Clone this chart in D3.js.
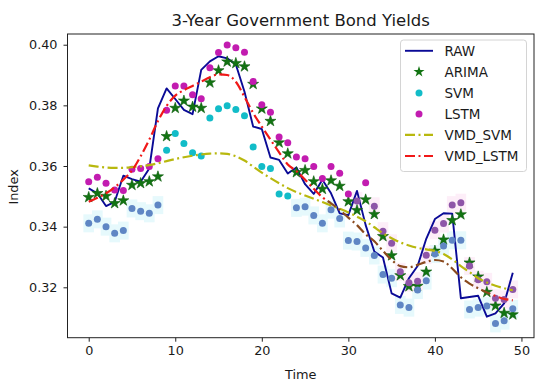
<!DOCTYPE html>
<html>
<head>
<meta charset="utf-8">
<script src="https://cdn.jsdelivr.net/npm/d3@7"></script>
<style>
  body { margin: 0; background: #fff; }
  text { font-family: "DejaVu Sans", sans-serif; fill: #1a1a1a; }
</style>
</head>
<body>
<div id="chart"></div>
<script>
// Data
var time = [0,1,2,3,4,5,6,7,8,9,10,11,12,13,14,15,16,17,18,19,20,21,22,23,24,
            25,26,27,28,29,30,31,32,33,34,35,36,37,38,39,40,41,42,43,44,45,46,47,48,49];

var raw = [0.3526,0.3510,0.3468,0.3482,0.3568,0.3557,0.3548,0.3592,0.3790,0.3856,
           0.3821,0.3785,0.3771,0.3917,0.3945,0.3962,0.3955,0.3935,0.3845,0.3730,
           0.3722,0.3628,0.3620,0.3575,0.3595,0.3540,0.3508,0.3555,0.3510,0.3444,
           0.3438,0.3518,0.3405,0.3318,0.3298,0.3180,0.3166,0.3230,0.3270,0.3360,
           0.3425,0.3444,0.3443,0.3164,0.3168,0.3172,0.3103,0.3114,0.3147,0.3248];

var arima = [0.3497,0.3510,0.3501,0.3477,0.3486,0.3537,0.3543,0.3549,0.3565,0.3698,
             0.3791,0.3815,0.3795,0.3791,0.3875,0.3915,0.3944,0.3939,0.3928,0.3870,
             0.3789,0.3748,0.3677,0.3641,0.3579,0.3586,0.3549,0.3524,0.3552,0.3534,
             0.3483,0.3454,0.3489,0.3441,0.3368,0.3305,0.3239,0.3203,0.3204,0.3251,
             0.3320,0.3357,0.3421,0.3440,0.3281,0.3235,0.3184,0.3139,0.3115,0.3110];

var svm = [0.3411,0.3424,0.3400,0.3378,0.3387,0.3460,0.3451,0.3444,0.3471,0.3652,
           0.3707,0.3674,0.3644,0.3633,0.3758,0.3789,0.3799,0.3786,0.3766,0.3663,
           0.3598,0.3592,0.3508,0.3501,0.3462,0.3466,0.3437,0.3411,0.3456,0.3427,
           0.3354,0.3351,0.3330,0.3305,0.3242,0.3230,0.3142,0.3133,0.3191,0.3222,
           0.3310,0.3336,0.3355,0.3355,0.3127,0.3133,0.3138,0.3081,0.3090,0.3129];

var lstm = [0.3548,0.3563,0.3543,0.3521,0.3519,0.3589,0.3592,0.3598,0.3624,0.3784,
            0.3864,0.3864,0.3835,0.3822,0.3924,0.3974,0.3999,0.3990,0.3975,0.3879,
            0.3802,0.3777,0.3696,0.3677,0.3630,0.3624,0.3598,0.3559,0.3598,0.3576,
            0.3508,0.3485,0.3545,0.3467,0.3385,0.3345,0.3251,0.3215,0.3220,0.3306,
            0.3388,0.3410,0.3471,0.3479,0.3270,0.3225,0.3218,0.3164,0.3160,0.3193];

var vmdSvm = [0.3602,0.3598,0.3595,0.3594,0.3594,0.3596,0.3599,0.3603,0.3609,0.3616,
              0.3623,0.3629,0.3634,0.3638,0.3641,0.3642,0.3640,0.3632,0.3618,0.3598,
              0.3578,0.3560,0.3543,0.3527,0.3514,0.3503,0.3492,0.3481,0.3470,0.3459,
              0.3447,0.3433,0.3418,0.3398,0.3378,0.3362,0.3348,0.3338,0.3330,0.3325,
              0.3320,0.3310,0.3292,0.3270,0.3250,0.3230,0.3216,0.3205,0.3197,0.3190];

var vmdLstm = [0.3482,0.3495,0.3510,0.3530,0.3555,0.3585,0.3632,0.3687,0.3748,0.3798,
               0.3832,0.3850,0.3864,0.3878,0.3893,0.3902,0.3900,0.3878,0.3828,0.3775,
               0.3730,0.3687,0.3645,0.3605,0.3583,0.3555,0.3525,0.3497,0.3477,0.3455,
               0.3430,0.3405,0.3375,0.3352,0.3320,0.3290,0.3270,0.3266,0.3274,0.3284,
               0.3290,0.3285,0.3262,0.3233,0.3212,0.3197,0.3183,0.3171,0.3162,0.3157];

var seriesNames = ["RAW", "ARIMA", "SVM", "LSTM", "VMD_SVM", "VMD_LSTM"];
var xTicks = [0, 10, 20, 30, 40, 50];
var yTicks = [0.32, 0.34, 0.36, 0.38, 0.40];

var svgWidth = 550;
var svgHeight = 388;
var margin = { top: 34, right: 16, bottom: 50.3, left: 67.5 };
var width = svgWidth - margin.left - margin.right;
var height = svgHeight - margin.top - margin.bottom;

var svg = d3.select("#chart")
  .append("svg")
  .attr("width", svgWidth)
  .attr("height", svgHeight);

var chart = svg.append("g")
  .attr("transform", `translate(${margin.left}, ${margin.top})`);

var xScale = d3.scaleLinear().domain([-2.45, 51.45]).range([0, width]);
var yScale = d3.scaleLinear().domain([0.30338, 0.40353]).range([height, 0]);

// faint highlight boxes behind the low points (present in the picture)
var boxW = xScale(1) - xScale(0) + 2;
function boxes(vals, limit, fill) {
  chart.append("g").selectAll("rect")
    .data(time.filter(t => vals[t] < limit))
    .enter().append("rect")
    .attr("x", t => xScale(t) - boxW / 2)
    .attr("y", t => yScale(vals[t]) - 9)
    .attr("width", boxW)
    .attr("height", 18)
    .attr("fill", fill);
}
boxes(svm, 0.348, "#e6f9fc");
boxes(lstm, 0.349, "#fdeef8");

// axes
var bottomAxis = d3.axisBottom(xScale).tickValues(xTicks).tickSize(4).tickPadding(4.5);
var leftAxis = d3.axisLeft(yScale).tickValues(yTicks).tickSize(4).tickPadding(6)
  .tickFormat(d3.format(".2f"));

var gx = chart.append("g")
  .attr("transform", `translate(0, ${height})`)
  .call(bottomAxis);
var gy = chart.append("g").call(leftAxis);
[gx, gy].forEach(function(g) {
  g.select(".domain").remove();
  g.selectAll("line").attr("stroke", "#222").attr("stroke-width", 1);
  g.selectAll("text").attr("font-size", "12.8px")
    .attr("font-family", "DejaVu Sans, sans-serif").attr("fill", "#1a1a1a");
});

// red line turns brown through the shaded part
var defs = svg.append("defs");
var grad = defs.append("linearGradient")
  .attr("id", "vmdGrad")
  .attr("gradientUnits", "userSpaceOnUse")
  .attr("x1", 0).attr("x2", width).attr("y1", 0).attr("y2", 0);
var s1 = xScale(27.4) / width, s2 = xScale(46.6) / width;
[[0, "#f01818"], [s1, "#f01818"], [s1, "#8a4a1e"], [s2, "#8a4a1e"], [s2, "#e8261e"], [1, "#e8261e"]]
  .forEach(function(s) {
    grad.append("stop").attr("offset", s[0]).attr("stop-color", s[1]);
  });

var line = d3.line().x((d, i) => xScale(time[i])).y(d => yScale(d));

// RAW
chart.append("path")
  .datum(raw)
  .attr("d", line)
  .attr("fill", "none")
  .attr("stroke", "#0a0a96")
  .attr("stroke-width", 1.9)
  .attr("stroke-linejoin", "round");

// ARIMA stars
var star = d3.symbol().type(d3.symbolStar).size(38);
chart.append("g").selectAll("path")
  .data(arima)
  .enter().append("path")
  .attr("d", star)
  .attr("transform", (d, i) => `translate(${xScale(time[i])}, ${yScale(d)})`)
  .attr("fill", "#127412")
  .attr("stroke", "#0a5a0a")
  .attr("stroke-width", 0.6);

// SVM dots
chart.append("g").selectAll("circle")
  .data(svm)
  .enter().append("circle")
  .attr("cx", (d, i) => xScale(time[i]))
  .attr("cy", d => yScale(d))
  .attr("r", 3.5)
  .attr("fill", d => d < 0.348 ? "#5f86c4" : "#12bcc8");

// LSTM dots
chart.append("g").selectAll("circle")
  .data(lstm)
  .enter().append("circle")
  .attr("cx", (d, i) => xScale(time[i]))
  .attr("cy", d => yScale(d))
  .attr("r", 3.5)
  .attr("fill", d => d < 0.349 ? "#8e55a8" : "#c21cb0");

// VMD_SVM
chart.append("path")
  .datum(vmdSvm)
  .attr("d", line.curve(d3.curveMonotoneX))
  .attr("fill", "none")
  .attr("stroke", "#b8b80e")
  .attr("stroke-width", 2.2)
  .attr("stroke-dasharray", "10,3.5,2,3.5");

// VMD_LSTM
chart.append("path")
  .datum(vmdLstm)
  .attr("d", line.curve(d3.curveMonotoneX))
  .attr("fill", "none")
  .attr("stroke", "url(#vmdGrad)")
  .attr("stroke-width", 2.2)
  .attr("stroke-dasharray", "10,3.5,2,3.5");

// frame
chart.append("rect")
  .attr("width", width)
  .attr("height", height)
  .attr("fill", "none")
  .attr("stroke", "#222")
  .attr("stroke-width", 1);

// title and axis labels
svg.append("text")
  .attr("x", margin.left + width / 2)
  .attr("y", 26)
  .attr("text-anchor", "middle")
  .attr("font-size", "16.5px")
  .text("3-Year Government Bond Yields");

svg.append("text")
  .attr("x", margin.left + width / 2)
  .attr("y", 379)
  .attr("text-anchor", "middle")
  .attr("font-size", "12.9px")
  .text("Time");

svg.append("text")
  .attr("transform", `translate(18, ${margin.top + height / 2 + 1}) rotate(-90)`)
  .attr("text-anchor", "middle")
  .attr("font-size", "12.9px")
  .text("Index");

// legend
var legend = svg.append("g").attr("transform", "translate(400.5, 40)");
legend.append("rect")
  .attr("width", 126)
  .attr("height", 131.5)
  .attr("rx", 3)
  .attr("fill", "#fff")
  .attr("fill-opacity", 0.85)
  .attr("stroke", "#d4d4d4")
  .attr("stroke-width", 1);

var rowY = d3.scalePoint().domain(seriesNames).range([10.8, 116]);
var hx0 = 4.5, hx1 = 32.5, hxm = 18.5;

legend.append("line")
  .attr("x1", hx0).attr("x2", hx1)
  .attr("y1", rowY("RAW")).attr("y2", rowY("RAW"))
  .attr("stroke", "#0a0a96").attr("stroke-width", 1.9);
legend.append("path")
  .attr("d", star)
  .attr("transform", `translate(${hxm}, ${rowY("ARIMA")})`)
  .attr("fill", "#127412");
legend.append("circle")
  .attr("cx", hxm).attr("cy", rowY("SVM")).attr("r", 3.5).attr("fill", "#12bcc8");
legend.append("circle")
  .attr("cx", hxm).attr("cy", rowY("LSTM")).attr("r", 3.5).attr("fill", "#c21cb0");
legend.append("line")
  .attr("x1", hx0).attr("x2", hx1)
  .attr("y1", rowY("VMD_SVM")).attr("y2", rowY("VMD_SVM"))
  .attr("stroke", "#b8b80e").attr("stroke-width", 2.2)
  .attr("stroke-dasharray", "10,3.5,2,3.5");
legend.append("line")
  .attr("x1", hx0).attr("x2", hx1)
  .attr("y1", rowY("VMD_LSTM")).attr("y2", rowY("VMD_LSTM"))
  .attr("stroke", "#f01818").attr("stroke-width", 2.2)
  .attr("stroke-dasharray", "10,3.5,2,3.5");

legend.selectAll(".lab")
  .data(seriesNames)
  .enter().append("text")
  .attr("class", "lab")
  .attr("x", 44)
  .attr("y", d => rowY(d))
  .attr("dy", "0.36em")
  .attr("font-size", "13.5px")
  .text(d => d);
</script>
</body>
</html>
